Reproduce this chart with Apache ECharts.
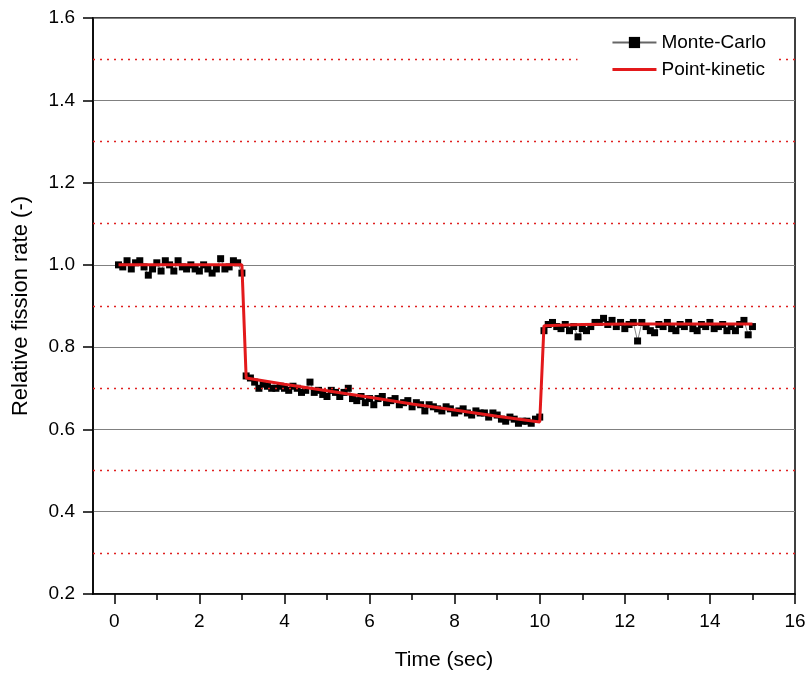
<!DOCTYPE html>
<html><head><meta charset="utf-8">
<script src="https://cdn.jsdelivr.net/npm/echarts@6/dist/echarts.min.js"></script>
<style>html,body{margin:0;padding:0;background:#fff}#c{width:812px;height:679px}</style>
</head><body><div id="c"></div>
<script>
// Monte-Carlo times (s) and values
const mcTime = [
 0.1,0.2,0.3,0.4,0.5,0.6,0.7,0.8,0.9,1.0,1.1,1.2,1.3,1.4,1.5,1.6,1.7,1.8,1.9,2.0,
 2.1,2.2,2.3,2.4,2.5,2.6,2.7,2.8,2.9,3.0,
 3.1,3.2,3.3,3.4,3.5,3.6,3.7,3.8,3.9,4.0,4.1,4.2,4.3,4.4,4.5,4.6,4.7,4.8,4.9,5.0,
 5.1,5.2,5.3,5.4,5.5,5.6,5.7,5.8,5.9,6.0,6.1,6.2,6.3,6.4,6.5,6.6,6.7,6.8,6.9,7.0,
 7.1,7.2,7.3,7.4,7.5,7.6,7.7,7.8,7.9,8.0,8.1,8.2,8.3,8.4,8.5,8.6,8.7,8.8,8.9,9.0,
 9.1,9.2,9.3,9.4,9.5,9.6,9.7,9.8,9.9,10.0,
 10.1,10.2,10.3,10.4,10.5,10.6,10.7,10.8,10.9,11.0,11.1,11.2,11.3,11.4,11.5,11.6,11.7,11.8,11.9,12.0,
 12.1,12.2,12.3,12.4,12.5,12.6,12.7,12.8,12.9,13.0,13.1,13.2,13.3,13.4,13.5,13.6,13.7,13.8,13.9,14.0,
 14.1,14.2,14.3,14.4,14.5,14.6,14.7,14.8,14.9,15.0
];
const mcValue = [
 1.000,0.995,1.010,0.990,1.005,1.010,0.995,0.975,0.990,1.005,0.985,1.010,1.000,0.985,1.010,0.995,0.990,1.000,0.990,0.985,
 1.000,0.990,0.980,0.990,1.015,0.990,0.995,1.010,1.005,0.980,
 0.730,0.725,0.715,0.700,0.710,0.705,0.700,0.700,0.705,0.700,0.695,0.705,0.700,0.690,0.695,0.715,0.690,0.695,0.685,0.680,
 0.695,0.690,0.680,0.690,0.700,0.675,0.670,0.680,0.665,0.675,0.660,0.675,0.680,0.665,0.670,0.675,0.660,0.665,0.670,0.655,
 0.665,0.660,0.645,0.660,0.655,0.650,0.645,0.655,0.650,0.640,0.645,0.650,0.640,0.635,0.645,0.640,0.640,0.630,0.640,0.635,
 0.625,0.620,0.630,0.625,0.615,0.620,0.620,0.615,0.625,0.630,
 0.840,0.855,0.860,0.850,0.845,0.855,0.840,0.850,0.825,0.845,0.840,0.850,0.860,0.860,0.870,0.855,0.865,0.850,0.860,0.845,
 0.855,0.860,0.815,0.860,0.850,0.840,0.835,0.855,0.850,0.860,0.845,0.840,0.855,0.850,0.860,0.845,0.840,0.855,0.850,0.860,
 0.845,0.850,0.855,0.840,0.850,0.840,0.855,0.865,0.830,0.850
];
// Point-kinetic curve
const pkTime  = [0.1, 3.0, 3.1, 4.0, 5.0, 6.0, 7.0, 8.0, 9.0, 10.0, 10.1, 11.0, 12.0, 13.0, 14.0, 15.0];
const pkValue = [1.0, 1.0, 0.725, 0.710, 0.694, 0.678, 0.662, 0.647, 0.632, 0.618, 0.852, 0.855, 0.856, 0.856, 0.856, 0.856];
// Axis ticks
const xMajorTicks = [0, 2, 4, 6, 8, 10, 12, 14, 16];
const xMinorTicks = [1, 3, 5, 7, 9, 11, 13, 15];
const redDottedLevels = [0.3, 0.5, 0.7, 0.9, 1.1, 1.3, 1.5];

const chart = echarts.init(document.getElementById('c'));
const font = 'Liberation Sans, Arial, sans-serif';
chart.setOption({
  animation: false,
  backgroundColor: '#fff',
  grid: { left: 93, right: 17, top: 18, bottom: 85, show: true, borderColor: '#000', borderWidth: 1.5, backgroundColor: 'transparent' },
  legend: {
    orient: 'vertical', right: 36, top: 29, itemGap: 8, itemWidth: 44, itemHeight: 14,
    backgroundColor: '#fff', padding: [4, 10, 8, 34], zlevel: 1, z: 50,
    textStyle: { fontFamily: font, fontSize: 19, color: '#000' },
    data: [
      { name: 'Monte-Carlo', itemStyle: { color: '#000' } },
      { name: 'Point-kinetic', icon: 'path://M0,0 L44,0 L44,3 L0,3 Z' }
    ]
  },
  xAxis: [{
    type: 'value', min: -0.5, max: 16,
    name: 'Time (sec)', nameLocation: 'middle', nameGap: 56,
    nameTextStyle: { fontFamily: font, fontSize: 21, color: '#000' },
    axisLine: { onZero: false, lineStyle: { color: '#000', width: 1.5 } },
    axisTick: { show: true, customValues: xMajorTicks, length: 10, inside: false, lineStyle: { color: '#000', width: 1.5 } },
    axisLabel: { customValues: xMajorTicks, fontFamily: font, fontSize: 19, color: '#000', margin: 18 },
    splitLine: { show: false }
  }, {
    type: 'value', min: -0.5, max: 16, position: 'bottom',
    axisLine: { show: false },
    axisTick: { show: true, customValues: xMinorTicks, length: 6, lineStyle: { color: '#000', width: 1.5 } },
    axisLabel: { show: false }, splitLine: { show: false }
  }],
  yAxis: {
    type: 'value', min: 0.2, max: 1.6, interval: 0.2,
    name: 'Relative fission rate (-)', nameLocation: 'middle', nameGap: 61,
    nameTextStyle: { fontFamily: font, fontSize: 22, color: '#000' },
    axisLine: { show: true, onZero: false, lineStyle: { color: '#000', width: 1.5 } },
    axisTick: { show: true, length: 10, lineStyle: { color: '#000', width: 1.5 } },
    axisLabel: { fontFamily: font, fontSize: 19, color: '#000', margin: 18, formatter: v => v.toFixed(1) },
    splitLine: { show: true, lineStyle: { color: '#808080', width: 1 } }
  },
  series: [{
    name: 'Monte-Carlo', type: 'line', xAxisIndex: 0,
    data: mcTime.map((t, i) => [t, mcValue[i]]),
    symbol: 'rect', symbolSize: 7,
    itemStyle: { color: '#000' },
    lineStyle: { color: '#666', width: 0.8 },
    z: 2,
    markLine: {
      silent: true, symbol: 'none', label: { show: false },
      lineStyle: { color: '#e02020', type: [2, 5], width: 1.3 },
      data: redDottedLevels.map(v => ({ yAxis: v }))
    }
  }, {
    name: 'Point-kinetic', type: 'line', xAxisIndex: 0,
    data: pkTime.map((t, i) => [t, pkValue[i]]),
    showSymbol: false, symbol: 'none',
    itemStyle: { color: '#e3191b' },
    lineStyle: { color: '#e3191b', width: 3 },
    z: 3
  }]
});
</script>
</body></html>
